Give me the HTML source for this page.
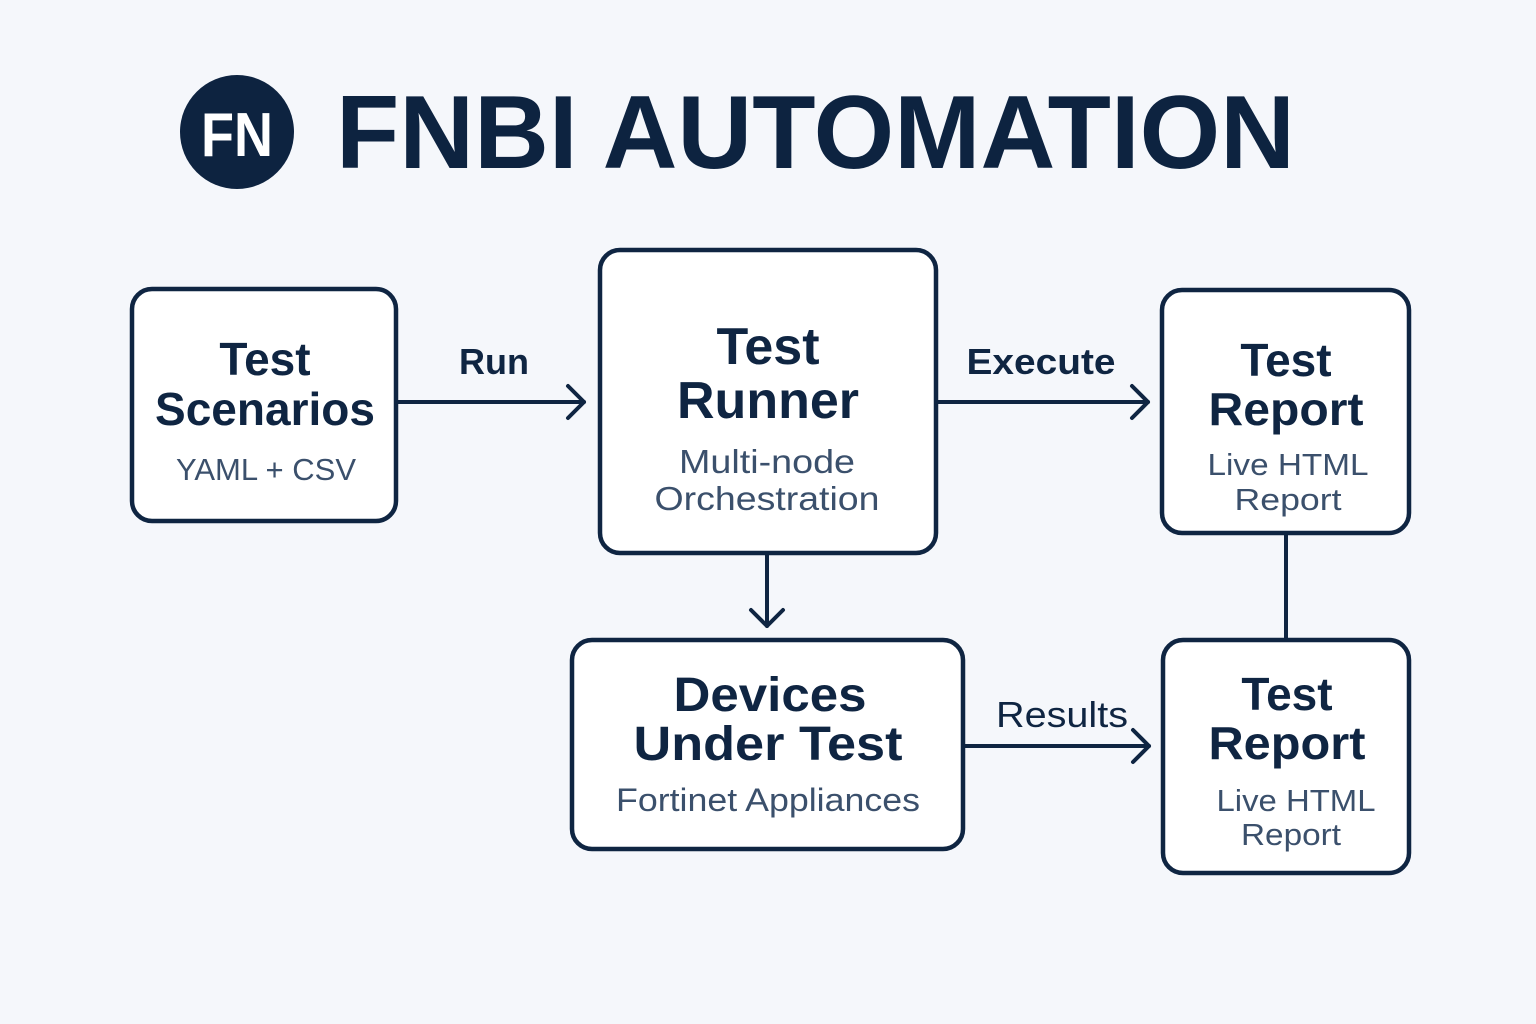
<!DOCTYPE html>
<html><head><meta charset="utf-8"><style>
html,body{margin:0;padding:0;background:#f5f7fb;}
svg{display:block;}
text{font-family:"Liberation Sans",sans-serif;}
.t{font-weight:bold;fill:#0f2542;text-anchor:middle;}
.s{fill:#3b506c;text-anchor:middle;}
.l{fill:#0f2542;text-anchor:middle;}
</style></head><body>
<svg width="1536" height="1024" viewBox="0 0 1536 1024" xmlns="http://www.w3.org/2000/svg">
<rect width="1536" height="1024" fill="#f5f7fb"/>
<circle cx="237" cy="132" r="57" fill="#0d2340"/>
<text x="237" y="156" font-size="62" font-weight="bold" fill="#fff" text-anchor="middle" textLength="72" lengthAdjust="spacingAndGlyphs">FN</text>
<text x="336" y="168" font-size="104" font-weight="bold" fill="#0d2340" textLength="959" lengthAdjust="spacingAndGlyphs">FNBI AUTOMATION</text>

<g fill="#fff" stroke="#0f2542" stroke-width="4.5">
<rect x="132" y="289" width="264" height="232" rx="20"/>
<rect x="600" y="250" width="336" height="303" rx="20"/>
<rect x="1162" y="290" width="247" height="243" rx="20"/>
<rect x="572" y="640" width="391" height="209" rx="20"/>
<rect x="1163" y="640" width="246" height="233" rx="20"/>
</g>

<g stroke="#0f2542" stroke-width="4" fill="none" stroke-linecap="round" stroke-linejoin="round">
<line x1="398" y1="402" x2="584" y2="402"/><polyline points="568,386 584,402 568,418"/>
<line x1="938" y1="402" x2="1148" y2="402"/><polyline points="1132,386 1148,402 1132,418"/>
<line x1="767" y1="555" x2="767" y2="626"/><polyline points="751,610 767,626 783,610"/>
<line x1="965" y1="746" x2="1149" y2="746"/><polyline points="1133,730 1149,746 1133,762"/>
<line x1="1286" y1="535" x2="1286" y2="638"/>
</g>

<text class="l" x="494" y="374" font-size="36" font-weight="bold">Run</text>
<text class="l" x="1041" y="374" font-size="36" font-weight="bold" textLength="149" lengthAdjust="spacingAndGlyphs">Execute</text>
<text class="l" x="1062" y="727" font-size="36" textLength="132" lengthAdjust="spacingAndGlyphs">Results</text>

<text class="t" x="265" y="375" font-size="46">Test</text>
<text class="t" x="265" y="425" font-size="46">Scenarios</text>
<text class="s" x="266" y="480" font-size="31">YAML + CSV</text>

<text class="t" x="768" y="364" font-size="52">Test</text>
<text class="t" x="768" y="418" font-size="52">Runner</text>
<text class="s" x="767" y="473" font-size="33" textLength="176" lengthAdjust="spacingAndGlyphs">Multi-node</text>
<text class="s" x="767" y="510" font-size="33" textLength="225" lengthAdjust="spacingAndGlyphs">Orchestration</text>

<text class="t" x="1286" y="376" font-size="46">Test</text>
<text class="t" x="1286" y="425" font-size="46" textLength="155" lengthAdjust="spacingAndGlyphs">Report</text>
<text class="s" x="1288" y="475" font-size="31" textLength="161" lengthAdjust="spacingAndGlyphs">Live HTML</text>
<text class="s" x="1288" y="510" font-size="31" textLength="107" lengthAdjust="spacingAndGlyphs">Report</text>

<text class="t" x="770" y="711" font-size="48" textLength="193" lengthAdjust="spacingAndGlyphs">Devices</text>
<text class="t" x="768" y="760" font-size="48" textLength="269" lengthAdjust="spacingAndGlyphs">Under Test</text>
<text class="s" x="768" y="811" font-size="32" textLength="304" lengthAdjust="spacingAndGlyphs">Fortinet Appliances</text>

<text class="t" x="1287" y="710" font-size="46">Test</text>
<text class="t" x="1287" y="759" font-size="46" textLength="157" lengthAdjust="spacingAndGlyphs">Report</text>
<text class="s" x="1296" y="811" font-size="31" textLength="159" lengthAdjust="spacingAndGlyphs">Live HTML</text>
<text class="s" x="1291" y="845" font-size="31" textLength="100" lengthAdjust="spacingAndGlyphs">Report</text>
</svg>
</body></html>
